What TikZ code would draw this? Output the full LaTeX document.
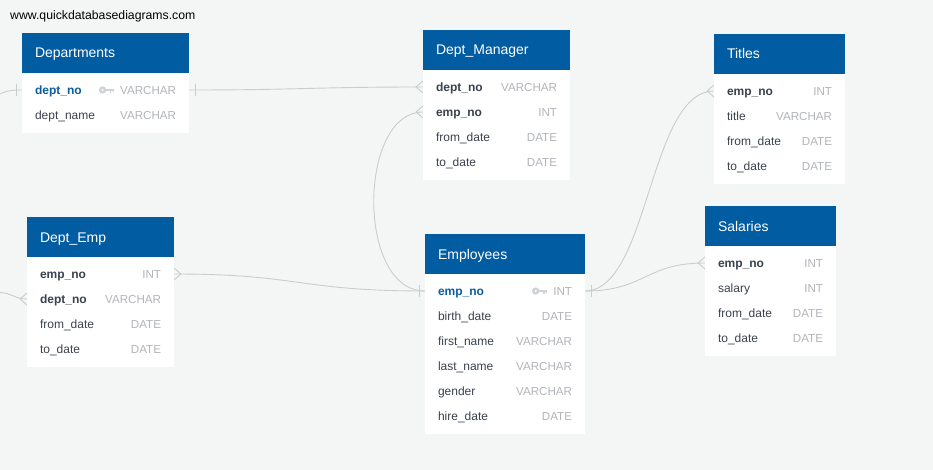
\documentclass[tikz,border=0pt]{standalone}
\usepackage{fontspec}
\setmainfont{Liberation Sans}
\usetikzlibrary{positioning, calc}
\definecolor{bgcol}{HTML}{F4F6F6}
\definecolor{headcol}{HTML}{015CA2}
\definecolor{fldcol}{HTML}{3A424E}
\definecolor{typcol}{HTML}{B1B4B9}
\definecolor{pkcol}{HTML}{0B5CA0}
\definecolor{linkcol}{HTML}{CBCDCD}
\definecolor{keycol}{HTML}{D0D3D6}
\tikzset{
  tblhead/.style={
    fill=headcol,
    text=white,
    anchor=north west,
    align=left,
    inner xsep=13pt,
    inner ysep=0pt,
    outer sep=0pt,
    minimum height=40pt,
    text height=12pt,
    text depth=2pt,
    font=\fontsize{14}{16}\selectfont
  },
  tblbody/.style={
    fill=white,
    anchor=north west,
    inner sep=0pt,
    outer sep=0pt
  },
  fld/.style={
    anchor=west,
    inner sep=0pt,
    outer sep=0pt,
    text=fldcol,
    text height=9pt,
    text depth=3pt,
    font=\fontsize{12}{14}\selectfont
  },
  fk/.style={
    fld,
    font=\fontsize{12}{14}\selectfont\bfseries
  },
  pk/.style={
    fk,
    text=pkcol
  },
  typ/.style={
    fld,
    anchor=east,
    xshift=-13pt,
    text=typcol,
    font=\fontsize{11.6}{14}\selectfont
  },
  nextrow/.style={
    below=13pt of #1.south west,
    anchor=north west
  },
  link/.style={
    draw=linkcol,
    line width=0.9pt
  },
  crow/.pic={
    \draw[link] (0,-6) -- (-7,0) -- (0,6);
  },
  endbar/.pic={
    \draw[link] (0,-6) -- (0,6);
  },
  keyicon/.pic={
    \draw[keycol, line width=2.4pt] (-17.6,-1.5) circle (2.4);
    \draw[keycol, line width=2.4pt] (-15,-1.5) -- (-6,-1.5);
    \draw[keycol, line width=1.6pt] (-9.5,-1.5) -- (-9.5,1.2);
    \draw[keycol, line width=1.6pt] (-6.8,-1.5) -- (-6.8,0.8);
  }
}
\begin{document}
\begin{tikzpicture}[x=1pt, y=-1pt]
  \fill[bgcol] (0,0) rectangle (933,470);
  \useasboundingbox (0,0) rectangle (933,470);

  \node[anchor=west, inner sep=0pt, font=\fontsize{12.25}{14}\selectfont] (site) at (10,16) {www.quickdatabasediagrams.com};

  % Connectors first, the tables lie over them
  \coordinate (dptfree) at (0,94);
  \coordinate (empfree) at (0,292.5);
  \coordinate (dptleft) at (22,90);
  \coordinate (dptright) at (189,90);
  \coordinate (mgrdept) at (423,87);
  \coordinate (mgremp) at (423,112);
  \coordinate (deleft) at (27,299);
  \coordinate (deright) at (174,274);
  \coordinate (empleft) at (425,291);
  \coordinate (empright) at (585,291);
  \coordinate (ttlleft) at (714,91);
  \coordinate (salleft) at (705,263);

  \draw[link] (dptfree) .. controls +(8,-4) and +(-8,0) .. (dptleft);
  \draw[link] (empfree) .. controls +(10,0) and +(-12,0) .. (deleft);
  \draw[link] (dptright) .. controls +(110,0) and +(-110,0) .. (mgrdept);
  \draw[link] (mgremp) .. controls +(-65,0) and +(-69,0) .. (empleft);
  \draw[link] (deright) .. controls +(126,0) and +(-126,0) .. (empleft);
  \draw[link] (empright) .. controls +(64,0) and +(-65,0) .. (ttlleft);
  \draw[link] (empright) .. controls +(60,0) and +(-60,0) .. (salleft);

  % End marks
  \pic at ($(dptleft)+(-6,0)$) {endbar};
  \pic at ($(dptright)+(6,0)$) {endbar};
  \pic at ($(empleft)+(-6,0)$) {endbar};
  \pic at ($(empright)+(6,0)$) {endbar};
  \pic at (mgrdept) {crow};
  \pic at (mgremp) {crow};
  \pic at (deleft) {crow};
  \pic[xscale=-1] at (deright) {crow};
  \pic at (ttlleft) {crow};
  \pic at (salleft) {crow};

  % Departments
  \node[tblhead, text width=141pt] (dpt) at (22,33) {Departments};
  \node[tblbody, below=0pt of dpt.south west, anchor=north west, minimum width=167pt, minimum height=60pt] (dptbody) {};
  \node[pk] (dptno) at ($(dpt.south west)+(13,18.5)$) {dept\_no};
  \node[fld, nextrow=dptno] (dptname) {dept\_name};
  \node[typ] (dptnotyp) at (dptno -| dptbody.east) {VARCHAR};
  \node[typ] (dptnametyp) at (dptname -| dptbody.east) {VARCHAR};
  \pic at (dptnotyp.west) {keyicon};

  % Dept_Manager
  \node[tblhead, text width=121pt] (mgr) at (423,30) {Dept\_Manager};
  \node[tblbody, below=0pt of mgr.south west, anchor=north west, minimum width=147pt, minimum height=110pt] (mgrbody) {};
  \node[fk] (mgrdn) at ($(mgr.south west)+(13,18.5)$) {dept\_no};
  \node[fk, nextrow=mgrdn] (mgren) {emp\_no};
  \node[fld, nextrow=mgren] (mgrfrom) {from\_date};
  \node[fld, nextrow=mgrfrom] (mgrto) {to\_date};
  \node[typ] (mgrdntyp) at (mgrdn -| mgrbody.east) {VARCHAR};
  \node[typ] (mgrentyp) at (mgren -| mgrbody.east) {INT};
  \node[typ] (mgrfromtyp) at (mgrfrom -| mgrbody.east) {DATE};
  \node[typ] (mgrtotyp) at (mgrto -| mgrbody.east) {DATE};

  % Titles
  \node[tblhead, text width=105pt] (ttl) at (714,34) {Titles};
  \node[tblbody, below=0pt of ttl.south west, anchor=north west, minimum width=131pt, minimum height=110pt] (ttlbody) {};
  \node[fk] (ttlen) at ($(ttl.south west)+(13,18.5)$) {emp\_no};
  \node[fld, nextrow=ttlen] (ttltitle) {title};
  \node[fld, nextrow=ttltitle] (ttlfrom) {from\_date};
  \node[fld, nextrow=ttlfrom] (ttlto) {to\_date};
  \node[typ] (ttlentyp) at (ttlen -| ttlbody.east) {INT};
  \node[typ] (ttltitletyp) at (ttltitle -| ttlbody.east) {VARCHAR};
  \node[typ] (ttlfromtyp) at (ttlfrom -| ttlbody.east) {DATE};
  \node[typ] (ttltotyp) at (ttlto -| ttlbody.east) {DATE};

  % Salaries
  \node[tblhead, text width=105pt] (sal) at (705,206) {Salaries};
  \node[tblbody, below=0pt of sal.south west, anchor=north west, minimum width=131pt, minimum height=110pt] (salbody) {};
  \node[fk] (salen) at ($(sal.south west)+(13,18.5)$) {emp\_no};
  \node[fld, nextrow=salen] (salsalary) {salary};
  \node[fld, nextrow=salsalary] (salfrom) {from\_date};
  \node[fld, nextrow=salfrom] (salto) {to\_date};
  \node[typ] (salentyp) at (salen -| salbody.east) {INT};
  \node[typ] (salsalarytyp) at (salsalary -| salbody.east) {INT};
  \node[typ] (salfromtyp) at (salfrom -| salbody.east) {DATE};
  \node[typ] (saltotyp) at (salto -| salbody.east) {DATE};

  % Dept_Emp
  \node[tblhead, text width=121pt] (de) at (27,217) {Dept\_Emp};
  \node[tblbody, below=0pt of de.south west, anchor=north west, minimum width=147pt, minimum height=110pt] (debody) {};
  \node[fk] (deen) at ($(de.south west)+(13,18.5)$) {emp\_no};
  \node[fk, nextrow=deen] (dedn) {dept\_no};
  \node[fld, nextrow=dedn] (defrom) {from\_date};
  \node[fld, nextrow=defrom] (deto) {to\_date};
  \node[typ] (deentyp) at (deen -| debody.east) {INT};
  \node[typ] (dedntyp) at (dedn -| debody.east) {VARCHAR};
  \node[typ] (defromtyp) at (defrom -| debody.east) {DATE};
  \node[typ] (detotyp) at (deto -| debody.east) {DATE};

  % Employees
  \node[tblhead, text width=134pt] (emp) at (425,234) {Employees};
  \node[tblbody, below=0pt of emp.south west, anchor=north west, minimum width=160pt, minimum height=160pt] (empbody) {};
  \node[pk] (empen) at ($(emp.south west)+(13,18.5)$) {emp\_no};
  \node[fld, nextrow=empen] (empbirth) {birth\_date};
  \node[fld, nextrow=empbirth] (empfirst) {first\_name};
  \node[fld, nextrow=empfirst] (emplast) {last\_name};
  \node[fld, nextrow=emplast] (empgender) {gender};
  \node[fld, nextrow=empgender] (emphire) {hire\_date};
  \node[typ] (empentyp) at (empen -| empbody.east) {INT};
  \node[typ] (empbirthtyp) at (empbirth -| empbody.east) {DATE};
  \node[typ] (empfirsttyp) at (empfirst -| empbody.east) {VARCHAR};
  \node[typ] (emplasttyp) at (emplast -| empbody.east) {VARCHAR};
  \node[typ] (empgendertyp) at (empgender -| empbody.east) {VARCHAR};
  \node[typ] (emphiretyp) at (emphire -| empbody.east) {DATE};
  \pic at (empentyp.west) {keyicon};
\end{tikzpicture}
\end{document}
